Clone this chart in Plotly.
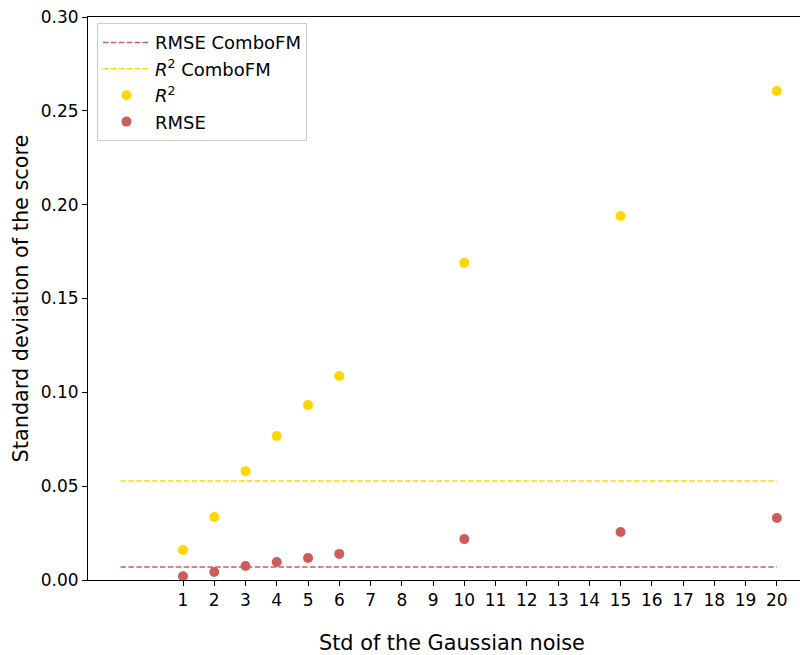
import plotly.graph_objects as go

noise_std = [1, 2, 3, 4, 5, 6, 10, 15, 20]
r2_std = [0.016, 0.0336, 0.058, 0.0767, 0.0932, 0.1087, 0.169, 0.194, 0.2606]
rmse_std = [0.002, 0.0043, 0.0075, 0.0096, 0.0117, 0.0139, 0.0218, 0.0256, 0.033]
combo_x = [-1, 20]
rmse_combofm = 0.0069
r2_combofm = 0.0527
x_ticks = list(range(1, 21))
y_ticks = [0.0, 0.05, 0.10, 0.15, 0.20, 0.25, 0.30]

RED = "#CD5C5C"
GOLD = "#FFD700"
FONT = "DejaVu Sans"

fig = go.Figure()
fig.add_trace(go.Scatter(x=combo_x, y=[rmse_combofm] * 2, mode="lines",
                         line=dict(color=RED, width=1.5, dash="5.5px,2.4px"),
                         name="RMSE ComboFM"))
fig.add_trace(go.Scatter(x=combo_x, y=[r2_combofm] * 2, mode="lines",
                         line=dict(color=GOLD, width=1.5, dash="5.5px,2.4px"),
                         name="<i>R</i><sup>2</sup> ComboFM"))
fig.add_trace(go.Scatter(x=noise_std, y=r2_std, mode="markers",
                         marker=dict(color=GOLD, size=10),
                         name="<i>R</i><sup>2</sup>"))
fig.add_trace(go.Scatter(x=noise_std, y=rmse_std, mode="markers",
                         marker=dict(color=RED, size=10),
                         name="RMSE"))

fig.update_layout(
    width=800, height=655,
    margin=dict(l=88, r=0, t=17, b=75),
    plot_bgcolor="white", paper_bgcolor="white",
    font=dict(family=FONT, size=17, color="black"),
    showlegend=True,
    legend=dict(x=0.0126, y=0.989, xanchor="left", yanchor="top",
                bordercolor="#cccccc", borderwidth=1, bgcolor="white",
                font=dict(family=FONT, size=18, color="black"),
                tracegroupgap=0, itemwidth=47),
    xaxis=dict(range=[-2.04, 20.74], tickvals=x_ticks, ticks="outside",
               ticklen=5, tickcolor="black", showline=True, linecolor="black",
               linewidth=1, mirror=True, showgrid=False, zeroline=False,
               tickfont=dict(size=17)),
    yaxis=dict(range=[0, 0.30], tickvals=y_ticks, tickformat=".2f", ticks="outside",
               ticklen=5, tickcolor="black", showline=True, linecolor="black",
               linewidth=1, showgrid=False, zeroline=False,
               tickfont=dict(size=17),
               title=dict(text="Standard deviation of the score", font=dict(size=20.8), standoff=6)),
    annotations=[dict(text="Std of the Gaussian noise", xref="paper", yref="paper",
                      x=0.511, y=-0.112, xanchor="center", yanchor="middle",
                      showarrow=False, font=dict(size=20.8))],
)

fig.write_html("out.html")
